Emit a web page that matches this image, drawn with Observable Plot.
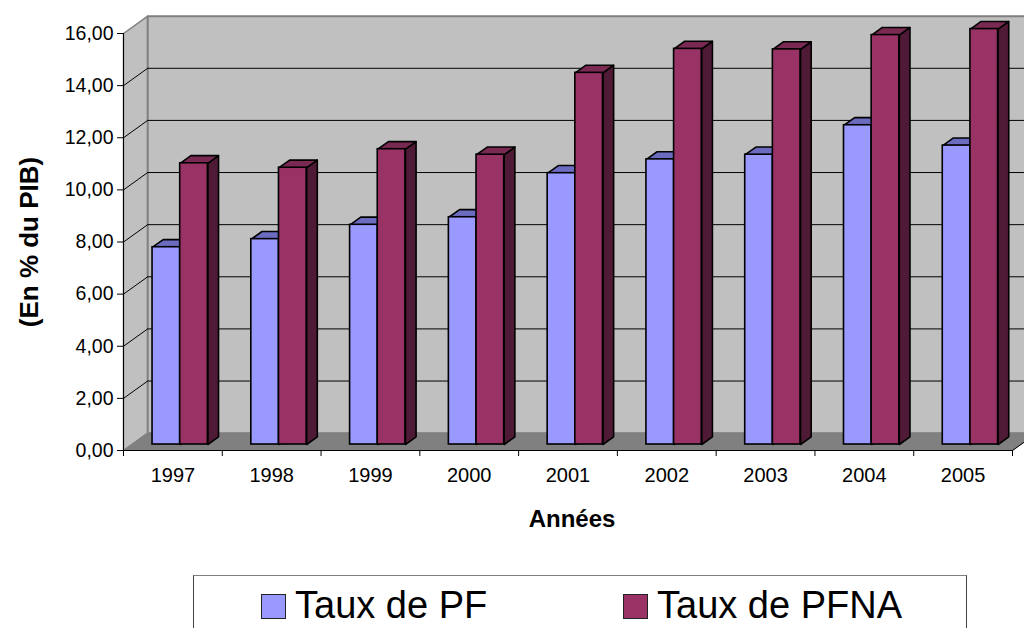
<!DOCTYPE html>
<html>
<head>
<meta charset="utf-8">
<script src="https://cdn.jsdelivr.net/npm/d3@7"></script>
<script src="https://cdn.jsdelivr.net/npm/@observablehq/plot@0.6"></script>
<style>
  html, body { margin: 0; padding: 0; background: #fff; overflow: hidden; }
  #wrap { position: relative; width: 1024px; height: 628px; font-family: "Liberation Sans", Arial, sans-serif; }
  #legend { position: absolute; left: 193px; top: 575px; width: 774px; height: 80px; border: 1px solid #444; border-top-color: #808080; box-sizing: border-box; }
  .sw { position: absolute; top: 18px; width: 25px; height: 25px; border: 1px solid #222; box-sizing: border-box; }
  .lt { position: absolute; top: 10px; font-size: 38px; line-height: 1; color: #000; white-space: nowrap; }
</style>
</head>
<body>
<div id="wrap">
  <div id="chart"></div>
  <div id="legend"></div>
</div>
<script>
// ---- Data ----
const years = ["1997", "1998", "1999", "2000", "2001", "2002", "2003", "2004", "2005"];
const tauxPF = [7.57, 7.88, 8.43, 8.72, 10.41, 10.94, 11.12, 12.25, 11.47];
const tauxPFNA = [10.79, 10.62, 11.33, 11.12, 14.26, 15.18, 15.16, 15.71, 15.94];
const seriesNames = ["Taux de PF", "Taux de PFNA"];
const yTicks = [0, 2, 4, 6, 8, 10, 12, 14, 16];
const yTitle = "(En % du PIB)";
const xTitle = "Années";

// ---- Styles / 3D geometry (in data units of the front plane) ----
const DX = 0.245, DY = 0.665;        // wall depth
const OX = 0.084, OY = 0.23;         // bar front-plane offset
const BX = 0.108, BY = 0.293;        // bar depth
const BW = 0.28;                      // bar width
const seriesStyle = [
  {off: 0.21, front: "#9999ff", top: "#6b6bc0", side: "#4d4d80"},
  {off: 0.49, front: "#993366", top: "#7a2952", side: "#4f1a35"}
];
const N = years.length;
const fmt = d => d.toFixed(2).replace(".", ",");

function poly(id, pts) { return pts.map(([x, y]) => ({id, x, y})); }

const sideWall = poly("side", [[0, 0], [DX, DY], [DX, 16 + DY], [0, 16]]);
const backWall = poly("back", [[DX, DY], [N + DX, DY], [N + DX, 16 + DY], [DX, 16 + DY]]);
const floor = poly("floor", [[0, 0], [N, 0], [N + DX, DY], [DX, DY]]);
const gridVals = yTicks.filter(v => v > 0 && v < 16);

const allSeries = [tauxPF, tauxPFNA];
const barMarks = [];
allSeries.forEach((vals, k) => {
  const st = seriesStyle[k];
  const bars = vals.map((v, i) => ({i, v, x1: i + st.off + OX, x2: i + st.off + BW + OX}));
  const tops = bars.flatMap(b => poly("t" + b.i, [
    [b.x1, b.v + OY], [b.x2, b.v + OY], [b.x2 + BX, b.v + OY + BY], [b.x1 + BX, b.v + OY + BY]]));
  const sides = bars.flatMap(b => poly("s" + b.i, [
    [b.x2, OY], [b.x2 + BX, OY + BY], [b.x2 + BX, b.v + OY + BY], [b.x2, b.v + OY]]));
  barMarks.push(
    Plot.line(sides, {x: "x", y: "y", z: "id", curve: "linear-closed", fill: st.side, stroke: "#000", strokeWidth: 1.6, strokeLinejoin: "round"}),
    Plot.line(tops, {x: "x", y: "y", z: "id", curve: "linear-closed", fill: st.top, stroke: "#000", strokeWidth: 1.6, strokeLinejoin: "round"}),
    Plot.rect(bars, {x1: "x1", x2: "x2", y1: OY, y2: d => d.v + OY, fill: st.front, stroke: "#000", strokeWidth: 1.6})
  );
});

const chart = Plot.plot({
  width: 1024,
  height: 560,
  marginLeft: 123,
  marginRight: 12,
  marginTop: 33,
  marginBottom: 110,
  style: {fontFamily: "'Liberation Sans', Arial, sans-serif", color: "#000", background: "transparent"},
  x: {type: "linear", domain: [0, N], axis: null},
  y: {type: "linear", domain: [0, 16], axis: null},
  marks: [
    Plot.line(sideWall, {x: "x", y: "y", z: "id", curve: "linear-closed", fill: "#c0c0c0", stroke: "#808080", strokeWidth: 1.5}),
    Plot.line(backWall, {x: "x", y: "y", z: "id", curve: "linear-closed", fill: "#c0c0c0", stroke: "#808080", strokeWidth: 2}),
    Plot.ruleY(gridVals, {y: d => d + DY, x1: DX, x2: N + DX, stroke: "#000", strokeWidth: 1}),
    Plot.link(gridVals, {x1: 0, y1: d => d, x2: DX, y2: d => d + DY, stroke: "#000", strokeWidth: 1}),
    Plot.line(floor, {x: "x", y: "y", z: "id", curve: "linear-closed", fill: "#808080", stroke: "#808080", strokeWidth: 1}),
    Plot.ruleX([0], {y1: 0, y2: 16, stroke: "#000", strokeWidth: 1}),
    Plot.ruleY([0], {x1: 0, x2: N, stroke: "#000", strokeWidth: 1}),
    Plot.link([0], {x1: N, y1: 0, x2: N + DX, y2: DY, stroke: "#000", strokeWidth: 1}),
    ...barMarks,
    Plot.axisY({ticks: yTicks, tickFormat: fmt, tickSize: 6, tickPadding: 4, fontSize: 19.5, label: null, stroke: "#000"}),
    Plot.axisX({ticks: d3.range(N + 1), tickFormat: () => "", tickSize: 6, label: null, stroke: "#000"}),
    Plot.text(years, {x: (d, i) => i + 0.5, y: 0, dy: 25.5, text: d => d, fontSize: 20, fill: "#000", lineAnchor: "middle"}),
    Plot.text([xTitle], {frameAnchor: "bottom", dy: 69, dx: 4, fontSize: 24, fontWeight: "bold", fill: "#000", lineAnchor: "middle"}),
    Plot.text([yTitle], {frameAnchor: "left", dx: -94, rotate: -90, fontSize: 26, fontWeight: "bold", fill: "#000", textAnchor: "middle", lineAnchor: "middle"})
  ]
});
document.getElementById("chart").appendChild(chart);

// ---- Legend ----
const legend = document.getElementById("legend");
const legendPos = [{sw: 67, tx: 101}, {sw: 429, tx: 463}];
seriesNames.forEach((name, k) => {
  const sw = document.createElement("div");
  sw.className = "sw";
  sw.style.left = legendPos[k].sw + "px";
  sw.style.background = seriesStyle[k].front;
  legend.appendChild(sw);
  const t = document.createElement("div");
  t.className = "lt";
  t.style.left = legendPos[k].tx + "px";
  t.textContent = name;
  legend.appendChild(t);
});
</script>
</body>
</html>
